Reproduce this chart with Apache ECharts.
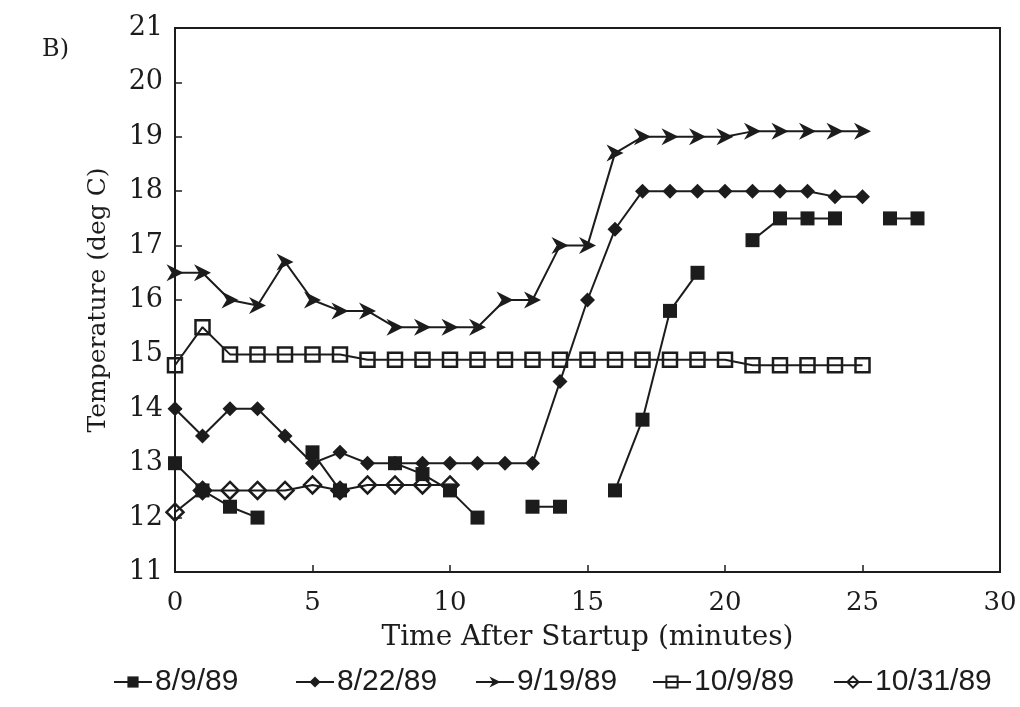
<!DOCTYPE html>
<html>
<head>
<meta charset="utf-8">
<script src="https://cdn.jsdelivr.net/npm/echarts@6/dist/echarts.min.js"></script>
<style>html,body{margin:0;padding:0;background:#fff;}#c{width:1020px;height:707px;}</style>
</head>
<body>
<div id="c"></div>
<script>
const minutes = [0,1,2,3,4,5,6,7,8,9,10,11,12,13,14,15,16,17,18,19,20,21,22,23,24,25,26,27];
const s0809 = [13.0,12.5,12.2,12.0,null,13.2,12.5,null,13.0,12.8,12.5,12.0,null,12.2,12.2,null,12.5,13.8,15.8,16.5,null,17.1,17.5,17.5,17.5,null,17.5,17.5];
const s0822 = [14.0,13.5,14.0,14.0,13.5,13.0,13.2,13.0,13.0,13.0,13.0,13.0,13.0,13.0,14.5,16.0,17.3,18.0,18.0,18.0,18.0,18.0,18.0,18.0,17.9,17.9];
const s0919 = [16.5,16.5,16.0,15.9,16.7,16.0,15.8,15.8,15.5,15.5,15.5,15.5,16.0,16.0,17.0,17.0,18.7,19.0,19.0,19.0,19.0,19.1,19.1,19.1,19.1,19.1];
const s1009 = [14.8,15.5,15.0,15.0,15.0,15.0,15.0,14.9,14.9,14.9,14.9,14.9,14.9,14.9,14.9,14.9,14.9,14.9,14.9,14.9,14.9,14.8,14.8,14.8,14.8,14.8];
const s1031 = [12.1,12.5,12.5,12.5,12.5,12.6,12.5,12.6,12.6,12.6,12.6];
const seriesNames = ['8/9/89','8/22/89','9/19/89','10/9/89','10/31/89'];
const xTicks = [0,5,10,15,20,25,30];

function pairs(arr){ return arr.map((v,i)=>[minutes[i], v]); }

const ink = '#1c1c1c';
const arrow = 'path://M0,0 L10,5 L0,10 L3,5 Z';
const serif = 'DejaVu Serif';

function mk(name, data, symbol, size, filled){
  return {
    name, type:'line', data: pairs(data), connectNulls:false,
    symbol, symbolSize:size, showSymbol:true,
    lineStyle:{color:ink, width:2},
    itemStyle:{color: filled ? ink : 'rgba(255,255,255,0)', borderColor:ink, borderWidth: filled?0:2.5},
    emphasis:{disabled:true}, animation:false
  };
}

const legendLefts = [108, 290, 470, 647, 828];
const legends = seriesNames.map((n,i)=>({
  data:[n], left:legendLefts[i], top:662, itemWidth:38, itemHeight:14,
  textStyle:{fontFamily:'Liberation Sans Narrow, Liberation Sans', fontSize:30, color:ink, padding:[0,0,0,-2]},
  inactiveColor:'#ccc'
}));

const chart = echarts.init(document.getElementById('c'));
chart.setOption({
  backgroundColor:'#fff',
  animation:false,
  title:{text:'B)', left:37, top:33, textStyle:{fontFamily:serif, fontSize:24, fontWeight:'normal', color:ink}},
  grid:{left:175, right:20, top:28, bottom:135, show:true, borderColor:ink, borderWidth:2, backgroundColor:'transparent'},
  xAxis:{
    type:'value', min:0, max:30, interval:5,
    name:'Time After Startup (minutes)', nameLocation:'middle', nameGap:52,
    nameTextStyle:{fontFamily:serif, fontSize:28, color:ink},
    axisLine:{lineStyle:{color:ink, width:2}},
    axisTick:{inside:true, length:7, lineStyle:{color:ink, width:1.5}},
    axisLabel:{fontFamily:serif, fontSize:26, color:ink, margin:18,
      formatter:(v)=> xTicks.includes(v) ? String(v) : ''},
    splitLine:{show:false}
  },
  yAxis:{
    type:'value', min:11, max:21, interval:1,
    name:'Temperature (deg C)', nameLocation:'middle', nameGap:64,
    nameTextStyle:{fontFamily:serif, fontSize:25, color:ink},
    axisLine:{lineStyle:{color:ink, width:2}},
    axisTick:{inside:true, length:7, lineStyle:{color:ink, width:1.5}},
    axisLabel:{fontFamily:serif, fontSize:27, color:ink, margin:12},
    splitLine:{show:false}
  },
  legend: legends,
  series:[
    mk(seriesNames[0], s0809, 'rect', 14, true),
    mk(seriesNames[1], s0822, 'diamond', 15, true),
    Object.assign(mk(seriesNames[2], s0919, arrow, 17, true), {symbolKeepAspect:true}),
    mk(seriesNames[3], s1009, 'rect', 14, false),
    mk(seriesNames[4], s1031, 'diamond', 17, false)
  ]
});
</script>
</body>
</html>
